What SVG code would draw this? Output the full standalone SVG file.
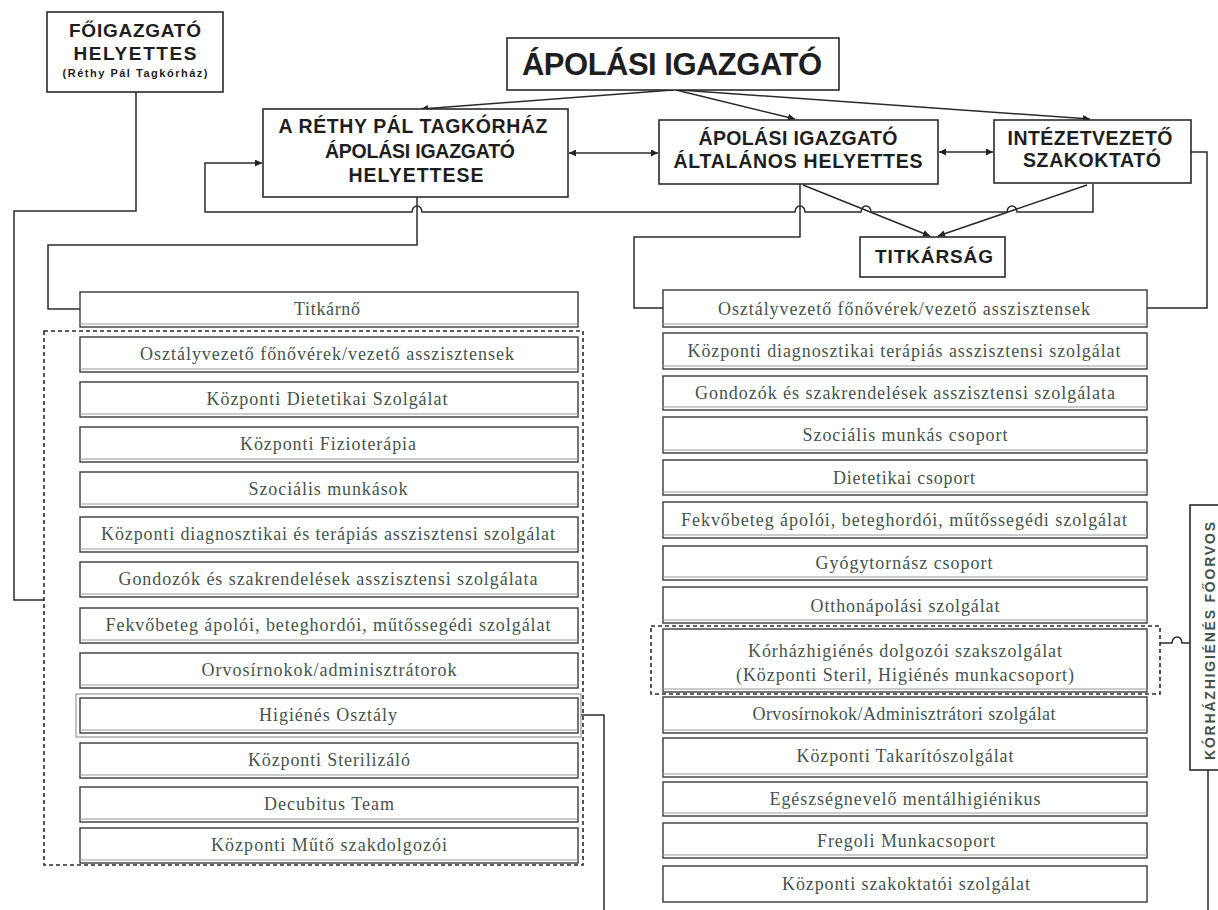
<svg xmlns="http://www.w3.org/2000/svg" width="1218" height="910" viewBox="0 0 1218 910">
<style>
.bx{fill:#fff;stroke:#2b2b2b;stroke-width:1.6}
.hd{font-family:"Liberation Sans",Arial,sans-serif;font-weight:bold;fill:#1e1e1e;text-anchor:middle}
.row{fill:#fff;stroke:#3a3a3a;stroke-width:1.4}
.sh{stroke:#9a9a9a;stroke-width:1}
.lt{font-family:"Liberation Serif","Times New Roman",serif;font-size:18px;fill:#45544b;text-anchor:middle}
.cn{fill:none;stroke:#2b2b2b;stroke-width:1.5}
.dash{fill:none;stroke:#2b2b2b;stroke-width:1.6;stroke-dasharray:4 3}
</style>
<defs>
<marker id="ah" viewBox="0 0 10 10" refX="10" refY="5" markerWidth="9" markerHeight="7" orient="auto-start-reverse" markerUnits="userSpaceOnUse"><path d="M0,0 L10,5 L0,10 z" fill="#222"/></marker>
</defs>
<rect width="1218" height="910" fill="#fff"/>

<g id="connectors">
<path class="cn" d="M136,92 V211 H14 V600 H44"/>
<path class="cn" d="M417,197 V245 H48 V309 H80"/>
<path class="cn" d="M1093,184 V212 H1017 A5,6 0 0 0 1007,212 H871 A5,6 0 0 0 861,212 H805 A5,6 0 0 0 795,212 H422 A5,6 0 0 0 412,212 H205 V163 H262" marker-end="url(#ah)"/>
<path class="cn" d="M803,185 L930,236" marker-end="url(#ah)"/>
<path class="cn" d="M1087,185 L938,236" marker-end="url(#ah)"/>
<path class="cn" d="M800,184 V237 H634 V308 H663"/>
<path class="cn" d="M1191,152 H1207 V308 H1147"/>
<path class="cn" d="M673,90 L421,109" marker-end="url(#ah)"/>
<path class="cn" d="M676,90 L795,119" marker-end="url(#ah)"/>
<path class="cn" d="M680,90 L1090,119" marker-end="url(#ah)"/>
<path class="cn" d="M569,153 H658" marker-start="url(#ah)" marker-end="url(#ah)"/>
<path class="cn" d="M939,152 H993" marker-start="url(#ah)" marker-end="url(#ah)"/>
<path class="cn" d="M581,715 H604 V910"/>
<path class="cn" d="M1160,643 H1172 A5,6 0 0 1 1182,643 H1190"/>
<path class="cn" d="M1208,770 V910"/>
</g>

<g id="foigazgato">
<rect class="bx" x="47" y="12" width="176" height="80"/>
<text class="hd" x="135" y="37" font-size="19" textLength="132">FŐIGAZGATÓ</text>
<text class="hd" x="135" y="60" font-size="19" textLength="123">HELYETTES</text>
<text class="hd" x="135" y="77" font-size="11" textLength="145">(Réthy Pál Tagkórház)</text>
</g>

<g id="apolasi-igazgato">
<rect class="bx" x="507" y="38" width="332" height="52"/>
<text class="hd" x="672" y="75" font-size="31" textLength="300">ÁPOLÁSI IGAZGATÓ</text>
</g>

<g id="rethy-helyettes">
<rect class="bx" x="263" y="109" width="305" height="88"/>
<text class="hd" x="413" y="133" font-size="19.5" textLength="269">A RÉTHY PÁL TAGKÓRHÁZ</text>
<text class="hd" x="420" y="158" font-size="19.5" textLength="190">ÁPOLÁSI IGAZGATÓ</text>
<text class="hd" x="416" y="182" font-size="19.5" textLength="135">HELYETTESE</text>
</g>

<g id="altalanos-helyettes">
<rect class="bx" x="659" y="120" width="279" height="64"/>
<text class="hd" x="798" y="145" font-size="19.5" textLength="199">ÁPOLÁSI IGAZGATÓ</text>
<text class="hd" x="798" y="168" font-size="19.5" textLength="249">ÁLTALÁNOS HELYETTES</text>
</g>

<g id="intezetvezeto">
<rect class="bx" x="994" y="120" width="197" height="63"/>
<text class="hd" x="1090" y="145" font-size="19.5" textLength="165">INTÉZETVEZETŐ</text>
<text class="hd" x="1092" y="167" font-size="19.5" textLength="138">SZAKOKTATÓ</text>
</g>

<g id="titkarsag">
<rect class="bx" x="860" y="237" width="145" height="40"/>
<text class="hd" x="934" y="263" font-size="19" textLength="118">TITKÁRSÁG</text>
</g>

<g id="left-list">
<rect class="dash" x="44" y="331" width="539" height="534"/>
<rect x="76" y="694" width="505" height="43" fill="none" stroke="#9a9a9a" stroke-width="1.2"/>
<g id="l0"><rect class="row" x="80" y="292" width="498" height="35"/><line class="sh" x1="80" y1="324" x2="578" y2="324"/><text class="lt" x="327" y="315" textLength="66">Titkárnő</text></g>
<g id="l1"><rect class="row" x="80" y="337" width="498" height="35"/><line class="sh" x1="80" y1="369" x2="578" y2="369"/><text class="lt" x="327" y="360" textLength="374">Osztályvezető főnővérek/vezető asszisztensek</text></g>
<g id="l2"><rect class="row" x="80" y="382" width="498" height="35"/><line class="sh" x1="80" y1="414" x2="578" y2="414"/><text class="lt" x="327" y="405" textLength="241">Központi Dietetikai Szolgálat</text></g>
<g id="l3"><rect class="row" x="80" y="427" width="498" height="35"/><line class="sh" x1="80" y1="459" x2="578" y2="459"/><text class="lt" x="328" y="450" textLength="176">Központi Fizioterápia</text></g>
<g id="l4"><rect class="row" x="80" y="472" width="498" height="35"/><line class="sh" x1="80" y1="504" x2="578" y2="504"/><text class="lt" x="328" y="495" textLength="159">Szociális munkások</text></g>
<g id="l5"><rect class="row" x="80" y="517" width="498" height="35"/><line class="sh" x1="80" y1="549" x2="578" y2="549"/><text class="lt" x="328" y="540" textLength="454">Központi diagnosztikai és terápiás asszisztensi szolgálat</text></g>
<g id="l6"><rect class="row" x="80" y="562" width="498" height="35"/><line class="sh" x1="80" y1="594" x2="578" y2="594"/><text class="lt" x="328" y="585" textLength="419">Gondozók és szakrendelések asszisztensi szolgálata</text></g>
<g id="l7"><rect class="row" x="80" y="608" width="498" height="35"/><line class="sh" x1="80" y1="640" x2="578" y2="640"/><text class="lt" x="328" y="631" textLength="445">Fekvőbeteg ápolói, beteghordói, műtőssegédi szolgálat</text></g>
<g id="l8"><rect class="row" x="80" y="653" width="498" height="35"/><line class="sh" x1="80" y1="685" x2="578" y2="685"/><text class="lt" x="329" y="676" textLength="255">Orvosírnokok/adminisztrátorok</text></g>
<g id="l9"><rect class="row" x="80" y="698" width="498" height="35"/><line class="sh" x1="80" y1="730" x2="578" y2="730"/><text class="lt" x="328" y="721" textLength="138">Higiénés Osztály</text></g>
<g id="l10"><rect class="row" x="80" y="743" width="498" height="35"/><line class="sh" x1="80" y1="775" x2="578" y2="775"/><text class="lt" x="329" y="766" textLength="162">Központi Sterilizáló</text></g>
<g id="l11"><rect class="row" x="80" y="787" width="498" height="35"/><line class="sh" x1="80" y1="819" x2="578" y2="819"/><text class="lt" x="329" y="810" textLength="130">Decubitus Team</text></g>
<g id="l12"><rect class="row" x="80" y="828" width="498" height="35"/><line class="sh" x1="80" y1="860" x2="578" y2="860"/><text class="lt" x="329" y="851" textLength="236">Központi Műtő szakdolgozói</text></g>
</g>

<g id="right-list">
<g id="r1"><rect class="row" x="663" y="290" width="484" height="37"/><line class="sh" x1="663" y1="324" x2="1147" y2="324"/><text class="lt" x="904" y="315" textLength="372">Osztályvezető főnővérek/vezető asszisztensek</text></g>
<g id="r2"><rect class="row" x="663" y="333" width="484" height="36"/><line class="sh" x1="663" y1="366" x2="1147" y2="366"/><text class="lt" x="904" y="357" textLength="433">Központi diagnosztikai terápiás asszisztensi szolgálat</text></g>
<g id="r3"><rect class="row" x="663" y="376" width="484" height="34"/><line class="sh" x1="663" y1="407" x2="1147" y2="407"/><text class="lt" x="905" y="399" textLength="420">Gondozók és szakrendelések asszisztensi szolgálata</text></g>
<g id="r4"><rect class="row" x="663" y="417" width="484" height="36"/><line class="sh" x1="663" y1="450" x2="1147" y2="450"/><text class="lt" x="905" y="441" textLength="205">Szociális munkás csoport</text></g>
<g id="r5"><rect class="row" x="663" y="460" width="484" height="35"/><line class="sh" x1="663" y1="492" x2="1147" y2="492"/><text class="lt" x="904" y="484" textLength="142">Dietetikai csoport</text></g>
<g id="r6"><rect class="row" x="663" y="502" width="484" height="36"/><line class="sh" x1="663" y1="535" x2="1147" y2="535"/><text class="lt" x="904" y="526" textLength="446">Fekvőbeteg ápolói, beteghordói, műtőssegédi szolgálat</text></g>
<g id="r7"><rect class="row" x="663" y="546" width="484" height="34"/><line class="sh" x1="663" y1="577" x2="1147" y2="577"/><text class="lt" x="904" y="569" textLength="177">Gyógytornász csoport</text></g>
<g id="r8"><rect class="row" x="663" y="587" width="484" height="36"/><line class="sh" x1="663" y1="620" x2="1147" y2="620"/><text class="lt" x="905" y="612" textLength="189">Otthonápolási szolgálat</text></g>
<g id="r9"><rect class="row" x="663" y="629" width="484" height="63"/><line class="sh" x1="663" y1="689" x2="1147" y2="689"/><text class="lt" x="905" y="657" textLength="314">Kórházhigiénés dolgozói szakszolgálat</text><text class="lt" x="905" y="681" textLength="338">(Központi Steril, Higiénés munkacsoport)</text></g>
<g id="r10"><rect class="row" x="663" y="697" width="484" height="36"/><line class="sh" x1="663" y1="730" x2="1147" y2="730"/><text class="lt" x="904" y="720" textLength="303">Orvosírnokok/Adminisztrátori szolgálat</text></g>
<g id="r11"><rect class="row" x="663" y="738" width="484" height="39"/><line class="sh" x1="663" y1="774" x2="1147" y2="774"/><text class="lt" x="905" y="762" textLength="217">Központi Takarítószolgálat</text></g>
<g id="r12"><rect class="row" x="663" y="782" width="484" height="34"/><line class="sh" x1="663" y1="813" x2="1147" y2="813"/><text class="lt" x="905" y="805" textLength="271">Egészségnevelő mentálhigiénikus</text></g>
<g id="r13"><rect class="row" x="663" y="823" width="484" height="35"/><line class="sh" x1="663" y1="855" x2="1147" y2="855"/><text class="lt" x="906" y="847" textLength="178">Fregoli Munkacsoport</text></g>
<g id="r14"><rect class="row" x="663" y="866" width="484" height="36"/><text class="lt" x="906" y="890" textLength="248">Központi szakoktatói szolgálat</text></g>
<rect class="dash" x="651" y="626" width="509" height="68"/>
</g>

<g id="korhazhigienes-foorvos">
<rect class="bx" x="1190" y="505" width="40" height="265"/>
<text transform="translate(1215,641) rotate(-90)" font-family="'Liberation Sans',Arial,sans-serif" font-size="14" font-weight="bold" fill="#45544b" text-anchor="middle" textLength="238">KÓRHÁZHIGIÉNÉS FŐORVOS</text>
</g>
</svg>
